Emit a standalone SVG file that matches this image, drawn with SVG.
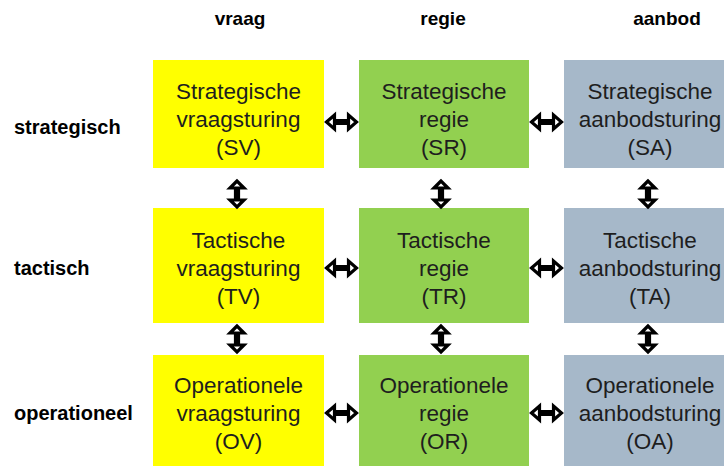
<svg xmlns="http://www.w3.org/2000/svg" xmlns:xlink="http://www.w3.org/1999/xlink" width="724" height="466" viewBox="0 0 724 466">
<style>
.bg{fill:#ffffff}
.box text{font-family:"Liberation Sans",Arial,sans-serif;font-size:22.5px;fill:#1e1e1e;text-anchor:middle}
.v{fill:#ffff00}
.r{fill:#92d050}
.a{fill:#a6b8c9}
.hdr{font-family:"Liberation Sans",Arial,sans-serif;font-size:19px;font-weight:bold;fill:#000;text-anchor:middle}
.row{font-family:"Liberation Sans",Arial,sans-serif;font-size:20px;font-weight:bold;fill:#000}
.arr{fill:#ffffff;stroke:#000;stroke-width:3.2;stroke-linejoin:miter}
</style>
<defs>
<path id="ah" class="arr" d="M-15,0 L-7,-7 L-7,-1.5 L7,-1.5 L7,-7 L15,0 L7,7 L7,1.5 L-7,1.5 L-7,7 Z"/>
<path id="av" class="arr" d="M0,-13 L-7,-6 L-1.5,-6 L-1.5,6 L-7,6 L0,13 L7,6 L1.5,6 L1.5,-6 L7,-6 Z"/>
</defs>
<rect class="bg" x="0" y="0" width="724" height="466"/>
<g id="headers">
<text class="hdr" x="240" y="25">vraag</text>
<text class="hdr" x="443" y="25">regie</text>
<text class="hdr" x="667" y="25">aanbod</text>
</g>
<g id="rowlabels">
<text class="row" x="14" y="134">strategisch</text>
<text class="row" x="14" y="275">tactisch</text>
<text class="row" x="14" y="420">operationeel</text>
</g>
<g id="SV" class="box"><rect class="v" x="153" y="60" width="171" height="108"/><text x="238.5" y="99">Strategische</text><text x="238.5" y="127">vraagsturing</text><text x="238.5" y="155">(SV)</text></g>
<g id="SR" class="box"><rect class="r" x="359" y="60" width="170" height="108"/><text x="444" y="99">Strategische</text><text x="444" y="127">regie</text><text x="444" y="155">(SR)</text></g>
<g id="SA" class="box"><rect class="a" x="564" y="60" width="171" height="108"/><text x="650" y="99">Strategische</text><text x="650" y="127">aanbodsturing</text><text x="650" y="155">(SA)</text></g>
<g id="TV" class="box"><rect class="v" x="153" y="208" width="171" height="115"/><text x="238.5" y="248">Tactische</text><text x="238.5" y="276">vraagsturing</text><text x="238.5" y="304">(TV)</text></g>
<g id="TR" class="box"><rect class="r" x="359" y="208" width="170" height="115"/><text x="444" y="248">Tactische</text><text x="444" y="276">regie</text><text x="444" y="304">(TR)</text></g>
<g id="TA" class="box"><rect class="a" x="564" y="208" width="171" height="115"/><text x="650" y="248">Tactische</text><text x="650" y="276">aanbodsturing</text><text x="650" y="304">(TA)</text></g>
<g id="OV" class="box"><rect class="v" x="153" y="355" width="171" height="120"/><text x="238.5" y="393">Operationele</text><text x="238.5" y="421">vraagsturing</text><text x="238.5" y="449">(OV)</text></g>
<g id="OR" class="box"><rect class="r" x="359" y="355" width="170" height="120"/><text x="444" y="393">Operationele</text><text x="444" y="421">regie</text><text x="444" y="449">(OR)</text></g>
<g id="OA" class="box"><rect class="a" x="564" y="355" width="171" height="120"/><text x="650" y="393">Operationele</text><text x="650" y="421">aanbodsturing</text><text x="650" y="449">(OA)</text></g>
<g id="connectors">
<use xlink:href="#ah" x="341.5" y="122"/>
<use xlink:href="#ah" x="546.5" y="122"/>
<use xlink:href="#ah" x="341.5" y="268"/>
<use xlink:href="#ah" x="546.5" y="268"/>
<use xlink:href="#ah" x="341.5" y="413"/>
<use xlink:href="#ah" x="546.5" y="413"/>
<use xlink:href="#av" x="237" y="194"/>
<use xlink:href="#av" x="441" y="194"/>
<use xlink:href="#av" x="648" y="194"/>
<use xlink:href="#av" x="237" y="339"/>
<use xlink:href="#av" x="441" y="339"/>
<use xlink:href="#av" x="648" y="339"/>
</g>
</svg>
